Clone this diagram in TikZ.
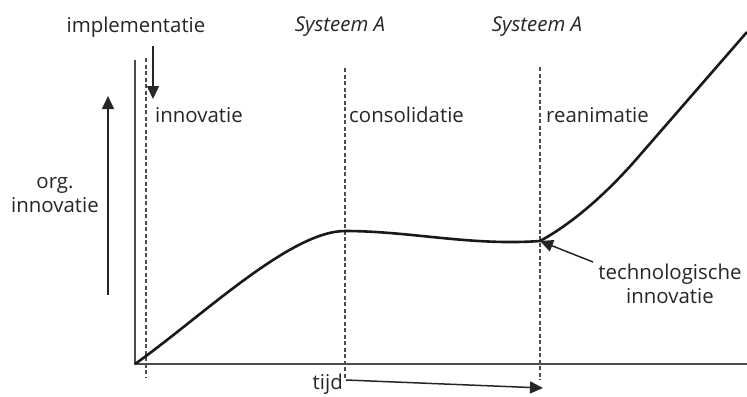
\documentclass[tikz,border=0pt]{standalone}
\usepackage{fontspec}
\setmainfont{Open Sans}
\usetikzlibrary{arrows.meta}
\begin{document}
\begin{tikzpicture}[x=1bp,y=-1bp,
  lbl/.style={text=black!85, font=\fontsize{20.5}{24}\selectfont, inner sep=0pt},
  axisline/.style={draw=black!70, line width=1.5bp},
  divider/.style={draw=black!70, line width=1.1bp, dash pattern=on 4bp off 2.5bp},
  curveline/.style={draw=black!90, line width=2.6bp},
  arr/.style={draw=black!85, line width=1.5bp, -{Triangle[length=13bp,width=12bp]}}]
\useasboundingbox (0,0) rectangle (747,396);
% axes
\coordinate (O) at (135,364);
\coordinate (ytop) at (135,60);
\coordinate (xend) at (747,364);
\draw[axisline] (ytop) -- (O) -- (xend);
% dividers
\coordinate (d1t) at (146,58);  \coordinate (d1b) at (146,378);
\coordinate (d2t) at (345,68);  \coordinate (d2b) at (345,378);
\coordinate (d3t) at (540,67);  \coordinate (d3b) at (540,380);
\draw[divider] (d1t) -- (d1b);
\draw[divider] (d2t) -- (d2b);
\draw[divider] (d3t) -- (d3b);
% curve
\coordinate (peak) at (345,231);
\coordinate (kink) at (540,241);
\coordinate (bend) at (640,155);
\coordinate (cend) at (747,32);
\draw[curveline] (O) .. controls (200,318) and (290,231) .. (peak)
  .. controls (410,231) and (470,246) .. (kink)
  .. controls (575,222) and (610,190) .. (bend) -- (cend);
% labels
\node[lbl] (impl) at (136,27) {implementatie};
\node[lbl] (sysA1) at (340,27) {\itshape Systeem A};
\node[lbl] (sysA2) at (537,27) {\itshape Systeem A};
\node[lbl, anchor=west] (innov) at (155,115) {innovatie};
\node[lbl, anchor=west] (consol) at (349,115) {consolidatie};
\node[lbl, anchor=west] (reanim) at (546,115) {reanimatie};
\node[lbl, align=center] (org) at (55,195) {org.\\innovatie};
\node[lbl, anchor=east] (tijd) at (343,384) {tijd};
\node[lbl, align=center] (tech) at (670,284) {technologische\\innovatie};
% arrows
\coordinate (implA) at (153,46);
\coordinate (implB) at (153,99);
\draw[arr] (implA) -- (implB);
\coordinate (upA) at (108,295);
\coordinate (upB) at (108,96);
\draw[arr] (upA) -- (upB);
\coordinate (tijdB) at (543,388);
\draw[arr] ([xshift=3bp,yshift=4bp]tijd.east) -- (tijdB);
\coordinate (techA) at (593,262);
\draw[arr] (techA) -- (kink);
\end{tikzpicture}
\end{document}
